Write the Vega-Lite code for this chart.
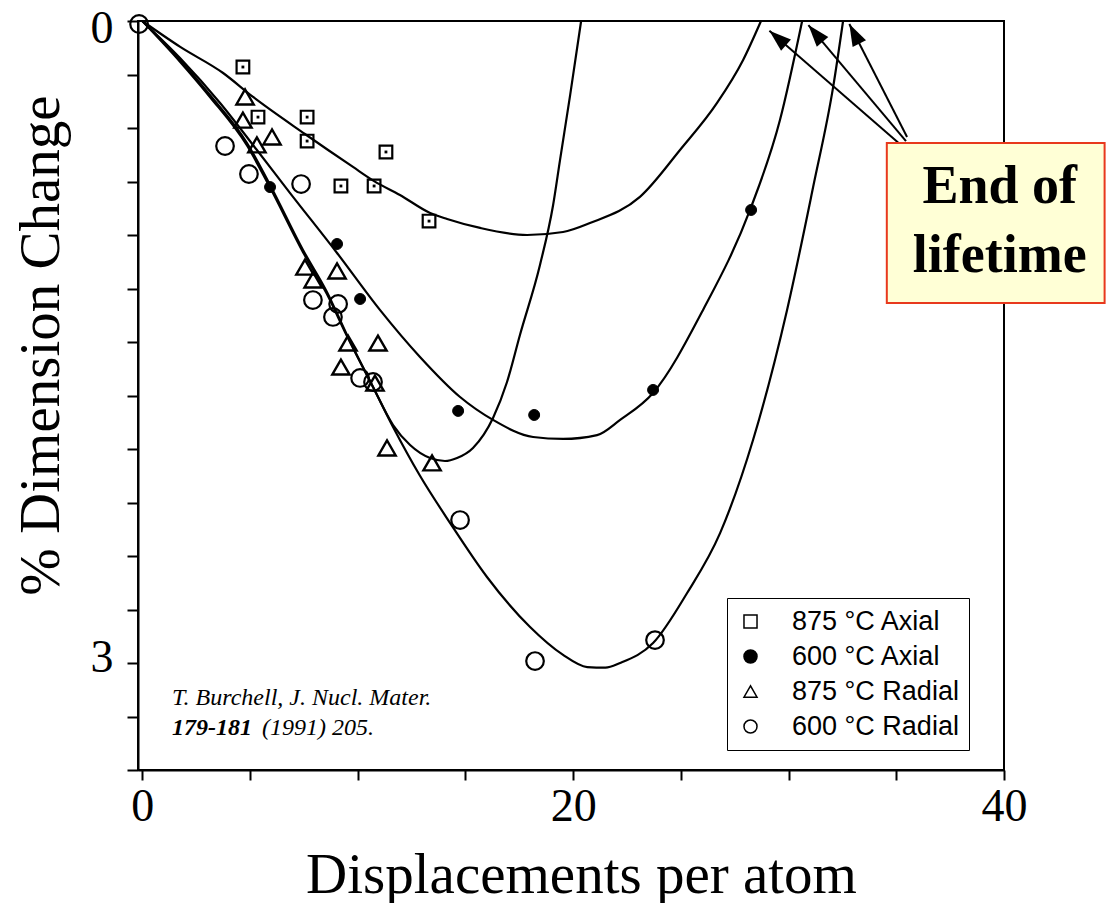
{
  "$schema": "https://vega.github.io/schema/vega-lite/v6.json",
  "width": 866,
  "height": 749,
  "autosize": {"type": "none"},
  "padding": {"left": 138, "top": 21, "right": 104, "bottom": 133},
  "background": "white",
  "config": {
    "view": {"stroke": "black", "strokeWidth": 2},
    "axis": {
      "grid": false,
      "domainColor": "black",
      "domainWidth": 2,
      "tickColor": "black",
      "tickWidth": 2,
      "labelColor": "black",
      "titleColor": "black",
      "labelFont": "Liberation Serif",
      "titleFont": "Liberation Serif",
      "titleFontWeight": "normal"
    }
  },
  "datasets": {
    "points": [
      {"series": "875 °C Axial", "x": 4.67, "y": 0.215},
      {"series": "875 °C Axial", "x": 5.37, "y": 0.449},
      {"series": "875 °C Axial", "x": 7.65, "y": 0.449},
      {"series": "875 °C Axial", "x": 7.65, "y": 0.561},
      {"series": "875 °C Axial", "x": 11.31, "y": 0.612},
      {"series": "875 °C Axial", "x": 9.22, "y": 0.771},
      {"series": "875 °C Axial", "x": 10.76, "y": 0.771},
      {"series": "875 °C Axial", "x": 13.31, "y": 0.935},
      {"series": "600 °C Axial", "x": 5.93, "y": 0.776},
      {"series": "600 °C Axial", "x": 9.04, "y": 1.042},
      {"series": "600 °C Axial", "x": 10.11, "y": 1.299},
      {"series": "600 °C Axial", "x": 14.66, "y": 1.822},
      {"series": "600 °C Axial", "x": 18.19, "y": 1.841},
      {"series": "600 °C Axial", "x": 23.71, "y": 1.724},
      {"series": "600 °C Axial", "x": 28.26, "y": 0.883},
      {"series": "875 °C Radial", "x": 4.77, "y": 0.355},
      {"series": "875 °C Radial", "x": 4.67, "y": 0.463},
      {"series": "875 °C Radial", "x": 6.02, "y": 0.542},
      {"series": "875 °C Radial", "x": 5.32, "y": 0.579},
      {"series": "875 °C Radial", "x": 7.55, "y": 1.15},
      {"series": "875 °C Radial", "x": 9.04, "y": 1.168},
      {"series": "875 °C Radial", "x": 7.93, "y": 1.21},
      {"series": "875 °C Radial", "x": 10.94, "y": 1.505},
      {"series": "875 °C Radial", "x": 9.55, "y": 1.505},
      {"series": "875 °C Radial", "x": 9.22, "y": 1.617},
      {"series": "875 °C Radial", "x": 10.8, "y": 1.692},
      {"series": "875 °C Radial", "x": 11.36, "y": 1.995},
      {"series": "875 °C Radial", "x": 13.45, "y": 2.065},
      {"series": "600 °C Radial", "x": -0.15, "y": 0.014},
      {"series": "600 °C Radial", "x": 3.84, "y": 0.584},
      {"series": "600 °C Radial", "x": 4.95, "y": 0.715},
      {"series": "600 °C Radial", "x": 7.37, "y": 0.762},
      {"series": "600 °C Radial", "x": 7.92, "y": 1.304},
      {"series": "600 °C Radial", "x": 9.09, "y": 1.322},
      {"series": "600 °C Radial", "x": 8.85, "y": 1.383},
      {"series": "600 °C Radial", "x": 10.11, "y": 1.668},
      {"series": "600 °C Radial", "x": 10.71, "y": 1.687},
      {"series": "600 °C Radial", "x": 14.75, "y": 2.332},
      {"series": "600 °C Radial", "x": 18.23, "y": 2.991},
      {"series": "600 °C Radial", "x": 23.8, "y": 2.893}
    ],
    "curves": [
      {"series": "875 °C Axial", "x": 0, "y": 0},
      {"series": "875 °C Axial", "x": 1.76, "y": 0.121},
      {"series": "875 °C Axial", "x": 3.75, "y": 0.243},
      {"series": "875 °C Axial", "x": 5.14, "y": 0.355},
      {"series": "875 °C Axial", "x": 7.55, "y": 0.528},
      {"series": "875 °C Axial", "x": 9.78, "y": 0.682},
      {"series": "875 °C Axial", "x": 10.76, "y": 0.748},
      {"series": "875 °C Axial", "x": 11.96, "y": 0.813},
      {"series": "875 °C Axial", "x": 13.36, "y": 0.897},
      {"series": "875 °C Axial", "x": 14.15, "y": 0.925},
      {"series": "875 °C Axial", "x": 15.68, "y": 0.967},
      {"series": "875 °C Axial", "x": 17.86, "y": 1.0},
      {"series": "875 °C Axial", "x": 19.53, "y": 0.986},
      {"series": "875 °C Axial", "x": 20.78, "y": 0.944},
      {"series": "875 °C Axial", "x": 23.1, "y": 0.822},
      {"series": "875 °C Axial", "x": 24.96, "y": 0.603},
      {"series": "875 °C Axial", "x": 26.68, "y": 0.383},
      {"series": "875 °C Axial", "x": 27.89, "y": 0.182},
      {"series": "875 °C Axial", "x": 28.72, "y": 0},
      {"series": "600 °C Axial", "x": 0, "y": 0},
      {"series": "600 °C Axial", "x": 1.75, "y": 0.173},
      {"series": "600 °C Axial", "x": 3.61, "y": 0.383},
      {"series": "600 °C Axial", "x": 5.32, "y": 0.603},
      {"series": "600 °C Axial", "x": 6.86, "y": 0.804},
      {"series": "600 °C Axial", "x": 9.04, "y": 1.084},
      {"series": "600 °C Axial", "x": 11.03, "y": 1.35},
      {"series": "600 °C Axial", "x": 12.89, "y": 1.57},
      {"series": "600 °C Axial", "x": 14.75, "y": 1.757},
      {"series": "600 °C Axial", "x": 16.28, "y": 1.864},
      {"series": "600 °C Axial", "x": 18.14, "y": 1.944},
      {"series": "600 °C Axial", "x": 19.53, "y": 1.953},
      {"series": "600 °C Axial", "x": 21.11, "y": 1.935},
      {"series": "600 °C Axial", "x": 22.18, "y": 1.864},
      {"series": "600 °C Axial", "x": 23.71, "y": 1.738},
      {"series": "600 °C Axial", "x": 26.03, "y": 1.35},
      {"series": "600 °C Axial", "x": 28.21, "y": 0.883},
      {"series": "600 °C Axial", "x": 29.6, "y": 0.463},
      {"series": "600 °C Axial", "x": 30.63, "y": 0},
      {"series": "875 °C Radial", "x": 0, "y": 0},
      {"series": "875 °C Radial", "x": 1.75, "y": 0.182},
      {"series": "875 °C Radial", "x": 3.14, "y": 0.346},
      {"series": "875 °C Radial", "x": 4.86, "y": 0.57},
      {"series": "875 °C Radial", "x": 5.93, "y": 0.766},
      {"series": "875 °C Radial", "x": 7.46, "y": 1.07},
      {"series": "875 °C Radial", "x": 8.57, "y": 1.266},
      {"series": "875 °C Radial", "x": 9.5, "y": 1.467},
      {"series": "875 °C Radial", "x": 10.71, "y": 1.71},
      {"series": "875 °C Radial", "x": 11.64, "y": 1.888},
      {"series": "875 °C Radial", "x": 12.43, "y": 1.981},
      {"series": "875 °C Radial", "x": 13.36, "y": 2.042},
      {"series": "875 °C Radial", "x": 14.05, "y": 2.056},
      {"series": "875 °C Radial", "x": 14.61, "y": 2.042},
      {"series": "875 °C Radial", "x": 15.35, "y": 1.995},
      {"series": "875 °C Radial", "x": 16.28, "y": 1.855},
      {"series": "875 °C Radial", "x": 16.93, "y": 1.687},
      {"series": "875 °C Radial", "x": 17.53, "y": 1.467},
      {"series": "875 °C Radial", "x": 18.46, "y": 1.14},
      {"series": "875 °C Radial", "x": 19.07, "y": 0.86},
      {"series": "875 °C Radial", "x": 19.39, "y": 0.65},
      {"series": "875 °C Radial", "x": 19.86, "y": 0.346},
      {"series": "875 °C Radial", "x": 20.37, "y": 0},
      {"series": "600 °C Radial", "x": 0, "y": 0},
      {"series": "600 °C Radial", "x": 1.75, "y": 0.19},
      {"series": "600 °C Radial", "x": 3.14, "y": 0.355},
      {"series": "600 °C Radial", "x": 4.86, "y": 0.582},
      {"series": "600 °C Radial", "x": 5.93, "y": 0.778},
      {"series": "600 °C Radial", "x": 7.46, "y": 1.08},
      {"series": "600 °C Radial", "x": 8.57, "y": 1.276},
      {"series": "600 °C Radial", "x": 9.5, "y": 1.472},
      {"series": "600 °C Radial", "x": 10.71, "y": 1.71},
      {"series": "600 °C Radial", "x": 11.64, "y": 1.897},
      {"series": "600 °C Radial", "x": 12.89, "y": 2.125},
      {"series": "600 °C Radial", "x": 14.29, "y": 2.346},
      {"series": "600 °C Radial", "x": 16.0, "y": 2.598},
      {"series": "600 °C Radial", "x": 18.0, "y": 2.832},
      {"series": "600 °C Radial", "x": 19.5, "y": 2.96},
      {"series": "600 °C Radial", "x": 20.65, "y": 3.019},
      {"series": "600 °C Radial", "x": 21.5, "y": 3.022},
      {"series": "600 °C Radial", "x": 22.18, "y": 3.0},
      {"series": "600 °C Radial", "x": 23.71, "y": 2.907},
      {"series": "600 °C Radial", "x": 25.29, "y": 2.673},
      {"series": "600 °C Radial", "x": 26.82, "y": 2.393},
      {"series": "600 °C Radial", "x": 28.35, "y": 1.958},
      {"series": "600 °C Radial", "x": 29.93, "y": 1.35},
      {"series": "600 °C Radial", "x": 31.14, "y": 0.776},
      {"series": "600 °C Radial", "x": 32.07, "y": 0.308},
      {"series": "600 °C Radial", "x": 32.53, "y": 0}
    ],
    "arrows": [
      {"arrow": "a1", "x": 29.11, "y": 0.045, "x2": 35.27, "y2": 0.584},
      {"arrow": "a2", "x": 30.92, "y": 0.019, "x2": 35.45, "y2": 0.561},
      {"arrow": "a3", "x": 32.82, "y": 0.014, "x2": 35.5, "y2": 0.542}
    ],
    "box": [
      {"x": 34.56, "x2": 44.67, "y": 0.57, "y2": 1.318}
    ],
    "notes": [
      {"kind": "box", "text": "End of", "x": 39.8, "y": 0.85},
      {"kind": "box", "text": "lifetime", "x": 39.8, "y": 1.173},
      {"kind": "cite", "text": "T. Burchell, J. Nucl. Mater.", "x": 1.38, "y": 3.196},
      {"kind": "citebold", "text": "179-181", "x": 1.38, "y": 3.336},
      {"kind": "cite", "text": "(1991) 205.", "x": 5.56, "y": 3.336}
    ]
  },
  "encoding": {
    "x": {
      "field": "x",
      "type": "quantitative",
      "scale": {"domain": [-0.2, 40], "nice": false, "zero": false},
      "axis": {
        "title": "Displacements per atom",
        "values": [0, 5, 10, 15, 20, 25, 30, 35, 40],
        "format": "d",
        "labelExpr": "datum.value == 0 || datum.value == 20 || datum.value == 40 ? datum.label : ''",
        "labelFontSize": 46,
        "labelPadding": 4,
        "labelFlush": false,
        "tickSize": 10,
        "titleFontSize": 57,
        "titleX": 443,
        "titleY": 122,
        "titleAlign": "center",
        "titleBaseline": "alphabetic"
      }
    },
    "y": {
      "field": "y",
      "type": "quantitative",
      "scale": {"domain": [0, 3.5], "nice": false, "zero": false, "reverse": true},
      "axis": {
        "title": "% Dimension Change",
        "values": [0, 0.25, 0.5, 0.75, 1, 1.25, 1.5, 1.75, 2, 2.25, 2.5, 2.75, 3, 3.25, 3.5],
        "labelExpr": "datum.value == 0 ? '0' : (datum.value == 3 ? '3' : '')",
        "labelFontSize": 46,
        "labelPadding": 14,
        "labelFlush": false,
        "labelOffset": {"condition": {"test": "datum.value == 0", "value": 7}, "value": -6},
        "tickSize": 11,
        "titleFontSize": 57,
        "titleAngle": -90,
        "titleX": -80,
        "titleY": 324,
        "titleAlign": "center",
        "titleBaseline": "alphabetic"
      }
    }
  },
  "layer": [
    {
      "data": {"name": "curves"},
      "mark": {"type": "line", "color": "black", "strokeWidth": 2.2, "interpolate": "monotone"},
      "encoding": {"detail": {"field": "series", "type": "nominal"}}
    },
    {
      "data": {"name": "points"},
      "transform": [{"filter": "datum.series == '875 °C Axial'"}],
      "mark": {"type": "point", "filled": true, "size": 160, "stroke": "black", "strokeWidth": 2.2, "opacity": 1},
      "encoding": {
        "shape": {"field": "series", "type": "nominal", "scale": {"domain": ["875 °C Axial", "600 °C Axial", "875 °C Radial", "600 °C Radial"], "range": ["square", "circle", "triangle-up", "circle"]},
          "legend": {"title": null, "orient": "none", "legendX": 589, "legendY": 577, "padding": 10, "strokeColor": "black", "fillColor": "white", "labelFont": "Liberation Sans", "labelFontSize": 27, "labelLimit": 400, "labelColor": "black", "symbolSize": 170, "rowPadding": 7, "labelOffset": 28, "symbolOffset": 0,
            "encode": {"symbols": {"update": {"stroke": {"value": "black"}, "strokeWidth": {"value": 2.2}}}}}},
        "fill": {"field": "series", "type": "nominal", "scale": {"domain": ["875 °C Axial", "600 °C Axial", "875 °C Radial", "600 °C Radial"], "range": ["transparent", "black", "transparent", "transparent"]},
          "legend": {"title": null, "orient": "none", "legendX": 589, "legendY": 577, "padding": 10, "strokeColor": "black", "fillColor": "white", "labelFont": "Liberation Sans", "labelFontSize": 27, "labelLimit": 400, "labelColor": "black", "symbolSize": 170, "rowPadding": 7, "labelOffset": 28, "symbolOffset": 0,
            "encode": {"symbols": {"update": {"stroke": {"value": "black"}, "strokeWidth": {"value": 2.2}}}}}}
      }
    },
    {
      "data": {"name": "points"},
      "transform": [{"filter": "datum.series == '875 °C Axial'"}],
      "mark": {"type": "point", "shape": "square", "filled": true, "size": 8, "color": "black", "opacity": 1}
    },
    {
      "data": {"name": "points"},
      "transform": [{"filter": "datum.series == '600 °C Axial'"}],
      "mark": {"type": "point", "filled": true, "size": 120, "stroke": "black", "strokeWidth": 1, "opacity": 1},
      "encoding": {
        "shape": {"field": "series", "type": "nominal"},
        "fill": {"field": "series", "type": "nominal"}
      }
    },
    {
      "data": {"name": "points"},
      "transform": [{"filter": "datum.series == '875 °C Radial'"}],
      "mark": {"type": "point", "filled": true, "size": 300, "stroke": "black", "strokeWidth": 2.4, "opacity": 1},
      "encoding": {
        "shape": {"field": "series", "type": "nominal"},
        "fill": {"field": "series", "type": "nominal"}
      }
    },
    {
      "data": {"name": "points"},
      "transform": [{"filter": "datum.series == '600 °C Radial'"}],
      "mark": {"type": "point", "filled": true, "size": 310, "stroke": "black", "strokeWidth": 2.2, "opacity": 1},
      "encoding": {
        "shape": {"field": "series", "type": "nominal"},
        "fill": {"field": "series", "type": "nominal"}
      }
    },
    {
      "data": {"name": "notes"},
      "transform": [{"filter": "datum.kind == 'cite'"}],
      "mark": {"type": "text", "font": "Liberation Serif", "fontStyle": "italic", "fontSize": 24, "align": "left", "baseline": "alphabetic", "color": "black"},
      "encoding": {"text": {"field": "text"}}
    },
    {
      "data": {"name": "notes"},
      "transform": [{"filter": "datum.kind == 'citebold'"}],
      "mark": {"type": "text", "font": "Liberation Serif", "fontStyle": "italic", "fontWeight": "bold", "fontSize": 24, "align": "left", "baseline": "alphabetic", "color": "black"},
      "encoding": {"text": {"field": "text"}}
    },
    {
      "data": {"name": "arrows"},
      "mark": {"type": "rule", "color": "black", "strokeWidth": 2},
      "encoding": {"x2": {"field": "x2"}, "y2": {"field": "y2"}}
    },
    {
      "data": {"name": "arrows"},
      "transform": [{"filter": "datum.arrow == 'a1'"}],
      "mark": {"type": "point", "shape": "M0,0L0.75,2.2L-0.75,2.2Z", "size": 400, "filled": true, "color": "black", "opacity": 1, "angle": 311}
    },
    {
      "data": {"name": "arrows"},
      "transform": [{"filter": "datum.arrow == 'a2'"}],
      "mark": {"type": "point", "shape": "M0,0L0.75,2.2L-0.75,2.2Z", "size": 400, "filled": true, "color": "black", "opacity": 1, "angle": 320}
    },
    {
      "data": {"name": "arrows"},
      "transform": [{"filter": "datum.arrow == 'a3'"}],
      "mark": {"type": "point", "shape": "M0,0L0.75,2.2L-0.75,2.2Z", "size": 400, "filled": true, "color": "black", "opacity": 1, "angle": 333}
    },
    {
      "data": {"name": "box"},
      "mark": {"type": "rect", "fill": "#ffffd6", "stroke": "#e8391d", "strokeWidth": 2},
      "encoding": {"x2": {"field": "x2"}, "y2": {"field": "y2"}}
    },
    {
      "data": {"name": "notes"},
      "transform": [{"filter": "datum.kind == 'box'"}],
      "mark": {"type": "text", "font": "Liberation Serif", "fontWeight": "bold", "fontSize": 54, "align": "center", "baseline": "alphabetic", "color": "black"},
      "encoding": {"text": {"field": "text"}}
    }
  ]
}
